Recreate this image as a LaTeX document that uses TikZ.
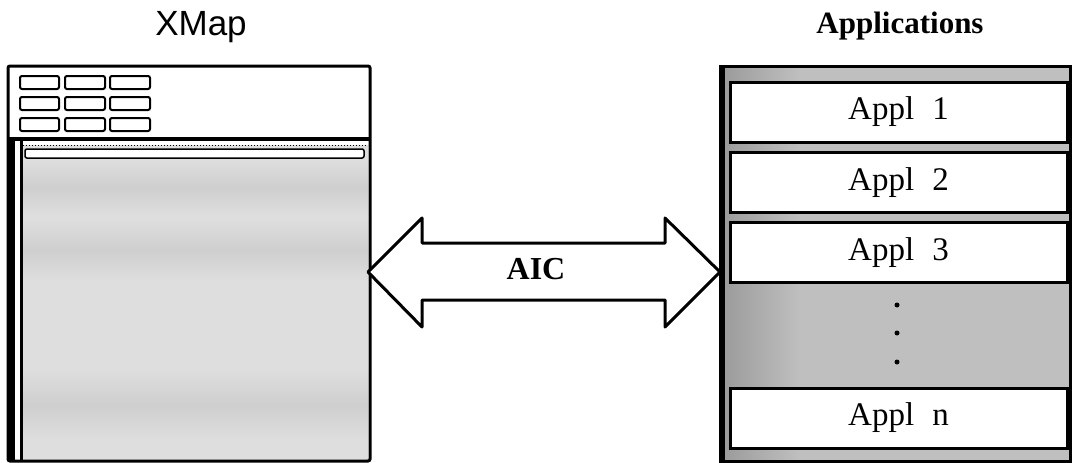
\documentclass[tikz,border=0pt]{standalone}
\usepackage{fontspec}
\setmainfont{Liberation Serif}
\newfontfamily\helv{Liberation Sans}
\begin{document}
\begin{tikzpicture}[x=1pt,y=-1pt,
  frame/.style={draw=black,line width=3pt},
  btn/.style={draw=black,line width=2pt,rounded corners=2pt,fill=white},
  applbox/.style={draw=black,line width=3pt,fill=white,minimum width=337pt,minimum height=60pt,inner sep=0pt,
     font=\fontsize{33}{36}\selectfont},
  dotm/.style={circle,fill=black,inner sep=0pt,minimum size=5pt},
  band/.style={top color=gray!26,bottom color=gray!26,middle color=gray!38},
  dblarrow/.style={draw=black,line width=3pt,fill=white,line join=round}]
\useasboundingbox (0,0) rectangle (1072,463);
% titles
\node[anchor=base,font=\helv\fontsize{35}{40}\selectfont,inner sep=0pt] (xmaptitle) at (201,35) {XMap};
\node[anchor=base,font=\bfseries\fontsize{31}{36}\selectfont,inner sep=0pt] (apptitle) at (900,33) {Applications};
% ---------- XMap window ----------
\fill[white] (8,66) rectangle (370,461);
\fill[gray!26] (23,145) rectangle (368,461);
\shade[band] (23,160) rectangle (368,215);
\shade[band] (23,220) rectangle (368,280);
\shade[band] (23,370) rectangle (368,440);
\draw[frame,rounded corners=2pt] (8,461) -- (8,66) -- (370,66) -- (370,461) -- cycle;
\draw[black,line width=4pt] (8,139) -- (370,139);
\fill[black] (8,139) rectangle (15,461);
\draw[black,line width=3pt] (21.5,139) -- (21.5,461);
\draw[black,line width=1pt,dotted] (23,145) -- (368,145);
\draw[black,line width=1.5pt,fill=white,rounded corners=2pt] (25,149) rectangle (364,158);
% buttons
\foreach \x/\xx in {20/59,65/105,110/150}{
  \foreach \y/\yy in {76/89,97/110,118/131}{
    \draw[btn] (\x,\y) rectangle (\xx,\yy);
  }
}
% ---------- Applications panel ----------
\fill[gray!50] (720,66) rectangle (1070,461);
\shade[left color=gray!78,right color=gray!50] (724,66) rectangle (800,461);
\draw[black,line width=3pt] (720,461) -- (720,66) -- (1070,66) -- (1070,461) -- cycle;
\fill[black] (719,66) rectangle (725,461);
\node[applbox] (a1) at (898.5,112) {Appl\hspace{0.55em}1};
\node[applbox] (a2) at (898.5,182.5) {Appl\hspace{0.55em}2};
\node[applbox] (a3) at (898.5,252.5) {Appl\hspace{0.55em}3};
\node[applbox] (an) at (898.5,418) {Appl\hspace{0.55em}n};
\node[dotm] (d1) at (897,305) {};
\node[dotm] (d2) at (897,333) {};
\node[dotm] (d3) at (897,362) {};
% ---------- AIC double arrow ----------
\draw[dblarrow] (368,272) -- (422,218) -- (422,243) -- (665,243) -- (665,218) -- (720,272)
   -- (665,327) -- (665,300) -- (422,300) -- (422,327) -- cycle;
\node[anchor=base,font=\bfseries\fontsize{32}{36}\selectfont,inner sep=0pt] (aic) at (536,279) {AIC};
\end{tikzpicture}
\end{document}
